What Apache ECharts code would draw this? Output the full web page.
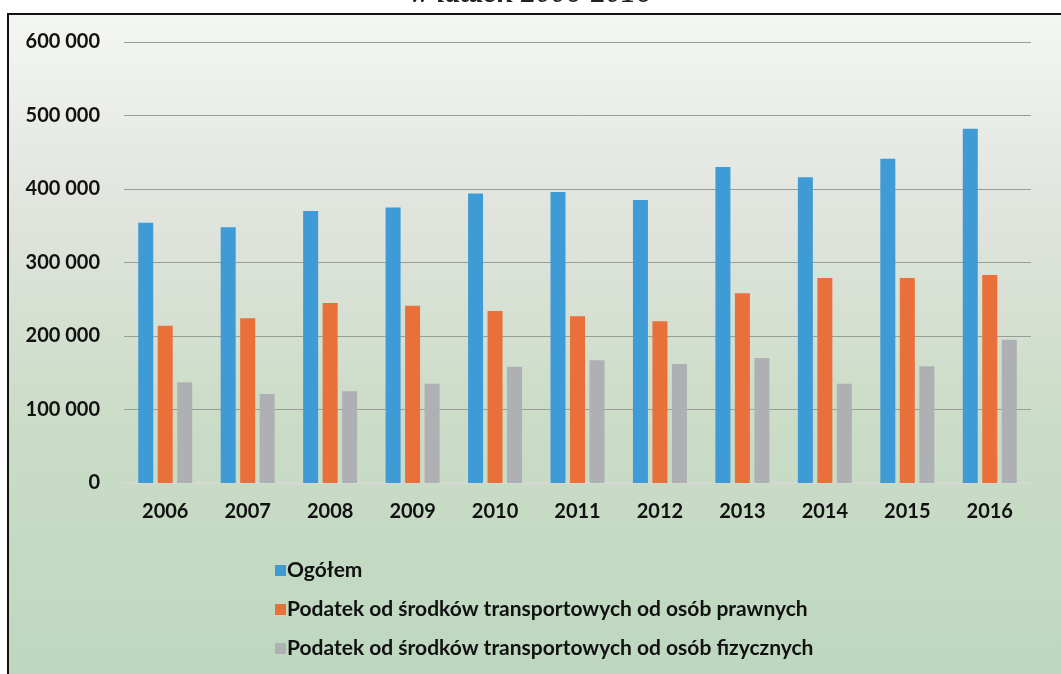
<!DOCTYPE html>
<html>
<head>
<meta charset="utf-8">
<script src="https://cdn.jsdelivr.net/npm/echarts@6/dist/echarts.min.js"></script>
<style>
  html, body { margin: 0; padding: 0; background: #ffffff; }
  #chart { width: 1061px; height: 674px; }
</style>
</head>
<body>
<div id="chart"></div>
<script>
var years = ['2006', '2007', '2008', '2009', '2010', '2011', '2012', '2013', '2014', '2015', '2016'];
var ogolem = [354000, 348000, 370000, 375000, 394000, 396000, 385000, 430000, 416000, 441000, 482000];
var prawne = [214000, 224000, 245000, 241000, 234000, 227000, 220000, 258000, 279000, 279000, 283000];
var fizyczne = [137000, 121000, 125000, 135000, 158000, 167000, 162000, 170000, 135000, 159000, 195000];
var seriesNames = [
  'Ogółem',
  'Podatek od środków transportowych od osób prawnych',
  'Podatek od środków transportowych od osób fizycznych'
];

var myChart = echarts.init(document.getElementById('chart'));

// liczby z odstępem jako separatorem tysięcy
function fmt(v) {
  return String(v).replace(/\B(?=(\d{3})+(?!\d))/g, ' ');
}

var option = {
  animation: false,
  color: ['#3f9bd6', '#e9703a', '#aeb0b3'],
  textStyle: { fontFamily: 'Lato, "Open Sans", sans-serif' },
  title: {
    text: 'w latach 2006-2016',
    left: 'center',
    top: -26,
    textStyle: {
      fontFamily: '"Liberation Serif", serif',
      fontStyle: 'italic',
      fontWeight: 'bold',
      fontSize: 30,
      color: '#222'
    }
  },
  graphic: [
    {
      type: 'rect',
      z: -10,
      shape: { x: 8, y: 14, width: 1060, height: 670 },
      style: {
        fill: new echarts.graphic.LinearGradient(0, 0, 0, 1, [
          { offset: 0, color: '#f4f6f2' },
          { offset: 0.3, color: '#e0e4dd' },
          { offset: 0.6, color: '#cbdcc7' },
          { offset: 1, color: '#bdd7bf' }
        ]),
        stroke: '#111',
        lineWidth: 2
      }
    }
  ],
  legend: {
    orient: 'vertical',
    left: 270,
    top: 555,
    itemWidth: 11,
    itemHeight: 11,
    itemGap: 18,
    icon: 'rect',
    textStyle: {
      fontSize: 21,
      fontWeight: 'bold',
      color: '#111',
      padding: [0, 0, 0, -4]
    },
    data: seriesNames
  },
  grid: {
    left: 124,
    right: 30,
    top: 42,
    bottom: 191
  },
  xAxis: {
    type: 'category',
    data: years,
    axisTick: { show: false },
    axisLine: { lineStyle: { color: '#d6d8d4', width: 2 } },
    axisLabel: {
      color: '#111',
      fontSize: 20,
      fontWeight: 'bold',
      margin: 19
    }
  },
  yAxis: {
    type: 'value',
    min: 0,
    max: 600000,
    interval: 100000,
    axisLine: { show: false },
    axisTick: { show: false },
    axisLabel: {
      color: '#111',
      fontSize: 20,
      fontWeight: 'bold',
      margin: 24,
      formatter: fmt
    },
    splitLine: {
      lineStyle: { color: '#9a9c98', width: 1 }
    }
  },
  series: [
    { name: seriesNames[0], type: 'bar', barWidth: 15, barGap: '30%', data: ogolem },
    { name: seriesNames[1], type: 'bar', barWidth: 15, barGap: '30%', data: prawne },
    { name: seriesNames[2], type: 'bar', barWidth: 15, barGap: '30%', data: fizyczne }
  ]
};

myChart.setOption(option);
window.addEventListener('resize', function () {
  myChart.resize();
});
</script>
</body>
</html>
